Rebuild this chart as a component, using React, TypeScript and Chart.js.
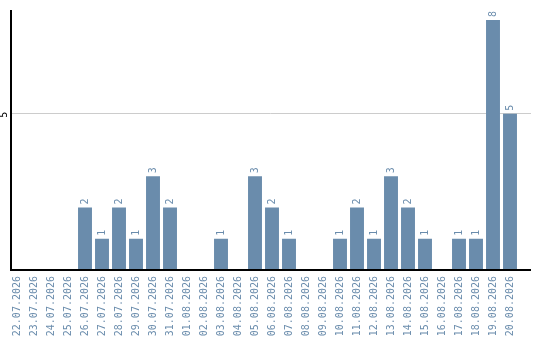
import React, { useEffect, useRef } from "react";
import { Chart, registerables } from "chart.js";

Chart.register(...registerables);

const dates = [
  "22.07.2026", "23.07.2026", "24.07.2026", "25.07.2026", "26.07.2026",
  "27.07.2026", "28.07.2026", "29.07.2026", "30.07.2026", "31.07.2026",
  "01.08.2026", "02.08.2026", "03.08.2026", "04.08.2026", "05.08.2026",
  "06.08.2026", "07.08.2026", "08.08.2026", "09.08.2026", "10.08.2026",
  "11.08.2026", "12.08.2026", "13.08.2026", "14.08.2026", "15.08.2026",
  "16.08.2026", "17.08.2026", "18.08.2026", "19.08.2026", "20.08.2026",
];

const counts = [
  0, 0, 0, 0, 2,
  1, 2, 1, 3, 2,
  0, 0, 1, 0, 3,
  2, 1, 0, 0, 1,
  2, 1, 3, 2, 1,
  0, 1, 1, 8, 5,
];

const yTicks = [5];
const yMax = 8.32;

const BAR = "#6a8cac";
const FONT = "10px 'DejaVu Sans Mono', monospace";

const decorations = {
  id: "decorations",
  beforeDatasetsDraw(chart: any) {
    const { ctx, chartArea, scales } = chart;
    const y = scales.y;
    ctx.save();
    ctx.strokeStyle = "#cccccc";
    ctx.lineWidth = 1;
    for (const t of yTicks) {
      const py = Math.round(y.getPixelForValue(t)) - 0.5;
      ctx.beginPath();
      ctx.moveTo(chartArea.left + 2, py);
      ctx.lineTo(chartArea.right + 12.5, py);
      ctx.stroke();
    }
    ctx.restore();
  },
  afterDatasetsDraw(chart: any) {
    const { ctx, chartArea, scales } = chart;
    const y = scales.y;
    const x0 = chartArea.left + 1.5;
    const base = y.getPixelForValue(0);
    ctx.save();
    // axis lines
    ctx.fillStyle = "#000000";
    ctx.fillRect(x0, chartArea.top, 2, base - chartArea.top + 1);
    ctx.fillRect(x0, base - 1, chartArea.right + 12.5 - x0, 2);

    // y tick labels
    ctx.font = FONT;
    ctx.textAlign = "center";
    ctx.textBaseline = "middle";
    for (const t of yTicks) {
      const py = y.getPixelForValue(t);
      ctx.save();
      ctx.translate(4.5, py + 1);
      ctx.rotate(-Math.PI / 2);
      ctx.fillText(String(t), 0, 0);
      ctx.restore();
    }

    // value labels above bars
    ctx.fillStyle = BAR;
    ctx.textAlign = "left";
    const meta = chart.getDatasetMeta(0);
    meta.data.forEach((bar: any, i: number) => {
      const v = counts[i];
      if (!v) return;
      ctx.save();
      ctx.translate(bar.x, bar.y - 3);
      ctx.rotate(-Math.PI / 2);
      ctx.fillText(String(v), 0, 0);
      ctx.restore();
    });
    ctx.restore();
  },
};

export default function App() {
  const ref = useRef<HTMLCanvasElement | null>(null);

  useEffect(() => {
    document.body.style.margin = "0";
    const canvas = ref.current;
    if (!canvas) return;
    const chart = new Chart(canvas, {
      type: "bar",
      data: {
        labels: dates,
        datasets: [
          {
            data: counts,
            backgroundColor: BAR,
            borderWidth: 0,
            categoryPercentage: 1,
            barPercentage: 0.82,
          },
        ],
      },
      options: {
        animation: false,
        responsive: false,
        devicePixelRatio: 1,
        layout: { padding: { left: 8.5, right: 21.5, top: 10, bottom: 0 } },
        plugins: {
          legend: { display: false },
          tooltip: { enabled: false },
        },
        scales: {
          x: {
            type: "category",
            offset: true,
            grid: { display: false },
            border: { display: false },
            afterFit: (scale: any) => {
              scale.height = 70;
            },
            ticks: {
              autoSkip: false,
              minRotation: 90,
              maxRotation: 90,
              padding: -2,
              color: BAR,
              font: { family: "'DejaVu Sans Mono', monospace", size: 10 },
            },
          },
          y: {
            min: 0,
            max: yMax,
            grid: { display: false },
            border: { display: false },
            ticks: { display: false },
            afterFit: (scale: any) => {
              scale.width = 0;
            },
          },
        },
      },
      plugins: [decorations],
    });
    return () => chart.destroy();
  }, []);

  return (
    <div style={{ width: 540, height: 340 }}>
      <canvas ref={ref} width={540} height={340} />
    </div>
  );
}
